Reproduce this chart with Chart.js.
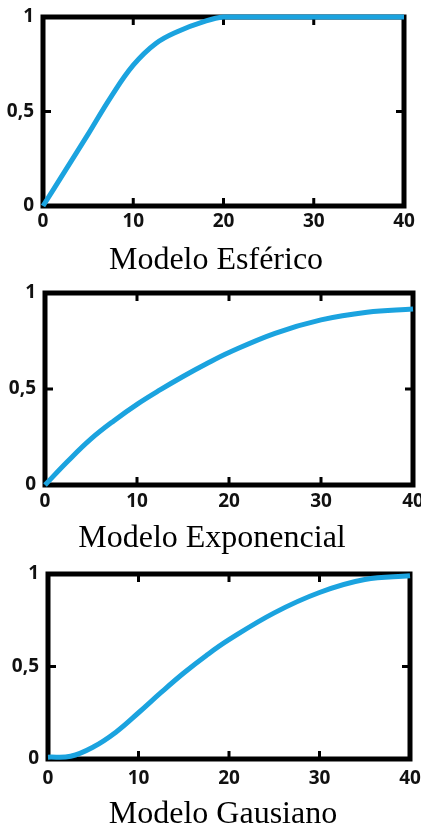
<!DOCTYPE html>
<html>
<head>
<meta charset="utf-8">
<script src="https://cdn.jsdelivr.net/npm/chart.js@4.4.1/dist/chart.umd.min.js"></script>
<style>
  body { margin: 0; background: #fff; }
  #wrap { position: relative; width: 421px; height: 825px; overflow: hidden; }
  canvas { position: absolute; left: 0; }
  .titulo {
    position: absolute; width: 400px; text-align: center;
    font-family: "Liberation Serif", "Times New Roman", serif;
    font-size: 32px; line-height: 32px; color: #000; white-space: nowrap;
  }
</style>
</head>
<body>
<div id="wrap">
  <canvas id="c1" width="421" height="280" style="top:0px"></canvas>
  <canvas id="c2" width="421" height="275" style="top:280px"></canvas>
  <canvas id="c3" width="421" height="270" style="top:555px"></canvas>
  <div class="titulo" style="left:16px; top:242px">Modelo Esférico</div>
  <div class="titulo" style="left:12px; top:520px">Modelo Exponencial</div>
  <div class="titulo" style="left:23px; top:796px">Modelo Gausiano</div>
</div>
<script>
// valores
const distancias = [0, 2.5, 5, 7.5, 10, 12.5, 15, 17.5, 20, 25, 30, 35, 40];
const esferico    = [0, 0.19, 0.38, 0.575, 0.745, 0.86, 0.925, 0.97, 1, 1, 1, 1, 1];
const exponencial = [0, 0.125, 0.24, 0.335, 0.42, 0.495, 0.565, 0.63, 0.69, 0.79, 0.86, 0.9, 0.917];
const gausiano    = [0.01, 0.015, 0.065, 0.145, 0.25, 0.36, 0.465, 0.56, 0.645, 0.79, 0.9, 0.97, 0.99];
const ticksX = [10, 20, 30];
const ticksY = [0.5];

const azul = "#1ba3df";

// marco negro con marcas hacia dentro
const marco = {
    id: "marco",
    beforeDatasetsDraw(chart) {
        const { ctx, chartArea: a, scales } = chart;
        ctx.save();
        ctx.strokeStyle = "#000";
        ctx.lineWidth = 5;
        ctx.strokeRect(a.left, a.top, a.right - a.left, a.bottom - a.top);
        ctx.lineWidth = 3;
        ctx.beginPath();
        ticksX.forEach((v) => {
            const px = scales.x.getPixelForValue(v);
            ctx.moveTo(px, a.bottom); ctx.lineTo(px, a.bottom - 8);
            ctx.moveTo(px, a.top); ctx.lineTo(px, a.top + 8);
        });
        ticksY.forEach((v) => {
            const py = scales.y.getPixelForValue(v);
            ctx.moveTo(a.left, py); ctx.lineTo(a.left + 8, py);
            ctx.moveTo(a.right, py); ctx.lineTo(a.right - 8, py);
        });
        ctx.stroke();
        ctx.restore();
    }
};

const fuente = { family: "Open Sans", weight: "bold", size: 19 };
const sinRejilla = { display: false, drawTicks: false, tickLength: 0 };

function crearGrafico(id, valores, izq, der, arriba, abajo, padX) {
    const canvas = document.getElementById(id);
    const alto = canvas.height;
    return new Chart(canvas.getContext("2d"), {
        type: "line",
        data: {
            datasets: [{
                data: distancias.map((d, i) => ({ x: d, y: valores[i] })),
                borderColor: azul,
                borderWidth: 5,
                pointRadius: 0,
                tension: 0.4,
                clip: false,
                fill: false
            }]
        },
        options: {
            responsive: false,
            animation: false,
            devicePixelRatio: 1,
            layout: { padding: { left: 0, right: 421 - der, top: arriba, bottom: 0 } },
            plugins: { legend: { display: false }, tooltip: { enabled: false } },
            scales: {
                x: {
                    type: "linear", min: 0, max: 40,
                    grid: sinRejilla, border: { display: false },
                    ticks: { stepSize: 10, padding: padX, color: "#111", maxRotation: 0, font: fuente },
                    afterFit: (s) => { s.height = alto - abajo; s.paddingLeft = 0; s.paddingRight = 0; }
                },
                y: {
                    min: 0, max: 1,
                    grid: sinRejilla, border: { display: false },
                    ticks: { stepSize: 0.5, padding: 9, color: "#111", font: fuente,
                        callback: (v) => String(v).replace(".", ",") },
                    afterFit: (s) => { s.width = izq; s.paddingTop = 0; s.paddingBottom = 0; }
                }
            }
        },
        plugins: [marco]
    });
}

crearGrafico("c1", esferico, 43, 404, 17, 206, 4);
crearGrafico("c2", exponencial, 45, 413, 13, 205, 5);
crearGrafico("c3", gausiano, 48, 410, 19, 204, 8);
</script>
</body>
</html>
